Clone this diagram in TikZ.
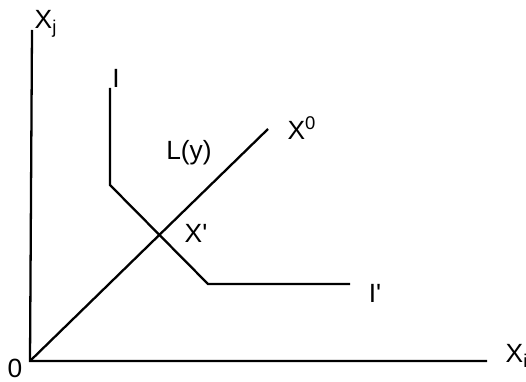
\documentclass[tikz,border=0pt]{standalone}
\usepackage{fontspec}
\setmainfont{Liberation Sans}
\begin{document}
\begin{tikzpicture}[line width=1.3pt,font=\fontsize{15}{17}\selectfont]
\useasboundingbox (-0.6,-0.4) rectangle (9.92,7.22);
\coordinate (O) at (0,0);
\coordinate (xj) at (0.04,6.62);
\coordinate (xi) at (9.14,0);
\coordinate (ray) at (4.76,4.64);
\coordinate (Itop) at (1.6,5.46);
\coordinate (Ia) at (1.6,3.52);
\coordinate (Ib) at (3.56,1.54);
\coordinate (Iend) at (6.4,1.54);
\draw (xj) -- (O) -- (xi);
\draw (O) -- (ray);
\draw (Itop) -- (Ia) -- (Ib) -- (Iend);
\node (labxj) at (0.32,6.74) {X\textsubscript{j}};
\node (labxi) at (9.74,0.1) {X\textsubscript{i}};
\node (labO) at (-0.3,-0.14) {0};
\node (labI) at (1.72,5.66) {I};
\node (labI2) at (6.9,1.36) {I\textquotesingle};
\node (labx0) at (5.44,4.66) {X\textsuperscript{0}};
\node (labL) at (3.18,4.16) {L(y)};
\node (labx1) at (3.32,2.56) {X\textquotesingle};
\end{tikzpicture}
\end{document}
